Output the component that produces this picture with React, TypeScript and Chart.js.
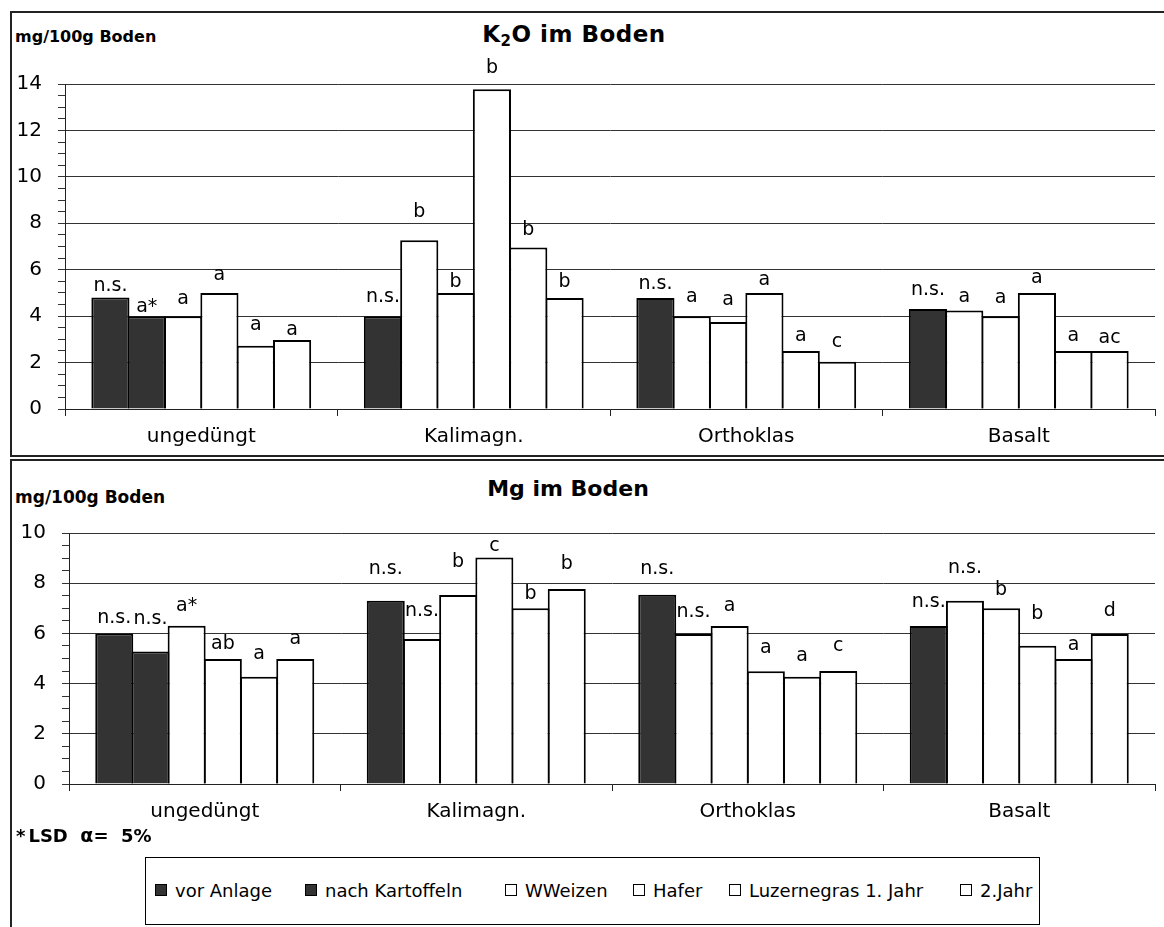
import React, { useEffect, useRef } from 'react';
import { Chart, registerables } from 'chart.js';

Chart.register(...registerables);
Chart.defaults.font.family = "'DejaVu Sans', sans-serif";
Chart.defaults.color = '#000';

// ---------- data ----------
const categories = ['ungedüngt', 'Kalimagn.', 'Orthoklas', 'Basalt'];
const seriesNames = ['vor Anlage', 'nach Kartoffeln', 'WWeizen', 'Hafer', 'Luzernegras 1. Jahr', '2.Jahr'];

// K2O im Boden (mg/100g Boden), one array per series across the categories
const k2oVorAnlage = [4.8, 4.0, 4.78, 4.31];
const k2oNachKartoffeln = [4.0, 7.27, 4.0, 4.24];
const k2oWWeizen = [4.0, 5.0, 3.75, 4.0];
const k2oHafer = [5.0, 13.77, 5.0, 5.0];
const k2oLuzerne1 = [2.73, 6.96, 2.5, 2.5];
const k2oJahr2 = [2.97, 4.78, 2.04, 2.5];

// Mg im Boden (mg/100g Boden)
const mgVorAnlage = [6.0, 7.3, 7.54, 6.29];
const mgNachKartoffeln = [5.28, 5.78, 5.98, 7.3];
const mgWWeizen = [6.3, 7.53, 6.29, 7.0];
const mgHafer = [4.98, 9.02, 4.49, 5.51];
const mgLuzerne1 = [4.27, 7.0, 4.27, 4.98];
const mgJahr2 = [4.98, 7.77, 4.5, 5.98];

// significance letters
const k2oLetters = [
  ['n.s.', 'n.s.', 'n.s.', 'n.s.'],
  ['a*', 'b', 'a', 'a'],
  ['a', 'b', 'a', 'a'],
  ['a', 'b', 'a', 'a'],
  ['a', 'b', 'a', 'a'],
  ['a', 'b', 'c', 'ac'],
];
const mgLetters = [
  ['n.s.', 'n.s.', 'n.s.', 'n.s.'],
  ['n.s.', 'n.s.', 'n.s.', 'n.s.'],
  ['a*', 'b', 'a', 'b'],
  ['ab', 'c', 'a', 'b'],
  ['a', 'b', 'a', 'a'],
  ['a', 'b', 'c', 'd'],
];

// axis maxima
const k2oMax = 14;
const mgMax = 10;

// ---------- styles / annotation placement ----------
const DARK = '#333333';
const WHITE = '#ffffff';
// letter lift above bar top (px)
const k2oLift = [
  [13, 20, 15, 20],
  [10, 29, 20, 15],
  [18, 12, 23, 19],
  [19, 22, 14, 16],
  [22, 18, 16, 16],
  [11, 17, 21, 14],
];
const mgLift = [
  [16, 33, 27, 25],
  [33, 29, 23, 34],
  [21, 34, 21, 19],
  [16, 13, 24, 33],
  [24, 15, 22, 15],
  [21, 26, 26, 24],
];

function seriesColor(i: number): any {
  if (i === 0) return DARK;
  if (i === 1) return categories.map((_, j) => (j === 0 ? DARK : WHITE));
  return WHITE;
}

function makeLabelPlugin(letters: string[][], lifts: number[][]) {
  return {
    id: 'barLetters',
    afterDatasetsDraw(chart: any) {
      const ctx = chart.ctx;
      ctx.save();
      ctx.font = "19px 'DejaVu Sans', sans-serif";
      ctx.fillStyle = '#000';
      ctx.textAlign = 'center';
      ctx.textBaseline = 'alphabetic';
      chart.data.datasets.forEach((_: any, i: number) => {
        const meta = chart.getDatasetMeta(i);
        meta.data.forEach((el: any, j: number) => {
          const t = letters[i][j];
          if (!t) return;
          ctx.fillText(t, el.x, el.y - lifts[i][j] + 6);
        });
      });
      ctx.restore();
    },
  };
}

type PanelProps = {
  top: number;
  height: number;
  padTop: number;
  yWidth: number;
  yMax: number;
  values: number[][];
  letters: string[][];
  lifts: number[][];
};

function BarPanel({ top, height, padTop, yWidth, yMax, values, letters, lifts }: PanelProps) {
  const ref = useRef<HTMLCanvasElement>(null);
  useEffect(() => {
    const chart = new Chart(ref.current as HTMLCanvasElement, {
      type: 'bar',
      data: {
        labels: categories,
        datasets: values.map((v, i) => ({
          label: seriesNames[i],
          data: v,
          backgroundColor: seriesColor(i),
          borderColor: '#000',
          borderWidth: 2,
          categoryPercentage: 0.8,
          barPercentage: 1.05,
        })),
      },
      options: {
        animation: false,
        responsive: true,
        maintainAspectRatio: false,
        layout: { padding: { top: padTop, right: 9, left: 0, bottom: 0 } },
        plugins: { legend: { display: false }, tooltip: { enabled: false }, title: { display: false } },
        scales: {
          x: {
            grid: { display: true, drawOnChartArea: false, drawTicks: true, tickLength: 7, color: '#222', offset: true },
            border: { display: true, color: '#222', width: 1 },
            ticks: { font: { size: 20 }, color: '#000', padding: 9 },
            afterFit: (s: any) => { s.height = 47; },
          },
          y: {
            min: 0,
            max: yMax,
            ticks: {
              stepSize: 0.5,
              maxTicksLimit: 200,
              autoSkip: false,
              font: { size: 20 },
              color: '#000',
              padding: 16,
              callback: (v: any) => (Number(v) % 2 === 0 ? String(v) : ''),
            },
            grid: {
              color: (c: any) => (c.tick && c.tick.value % 2 === 0 ? '#333' : 'rgba(0,0,0,0)'),
              tickColor: '#333',
              tickLength: 7,
              lineWidth: 1,
            },
            border: { display: true, color: '#222', width: 1 },
            afterFit: (s: any) => { s.width = yWidth; },
          },
        },
      } as any,
      plugins: [makeLabelPlugin(letters, lifts)],
    });
    return () => chart.destroy();
  }, []);
  return (
    <div style={{ position: 'absolute', left: 0, top, width: 1164, height }}>
      <canvas ref={ref} />
    </div>
  );
}

const legendSquares = [155, 305, 505, 633, 729, 960];

export default function App() {
  const k2oValues = [k2oVorAnlage, k2oNachKartoffeln, k2oWWeizen, k2oHafer, k2oLuzerne1, k2oJahr2];
  const mgValues = [mgVorAnlage, mgNachKartoffeln, mgWWeizen, mgHafer, mgLuzerne1, mgJahr2];
  const bold = "bold 16px 'DejaVu Sans', sans-serif";
  return (
    <div style={{ position: 'absolute', left: 0, top: 0, width: 1164, height: 927, overflow: 'hidden', background: '#fff', fontFamily: "'DejaVu Sans', sans-serif", color: '#000' }}>
      {/* panel frames */}
      <div style={{ position: 'absolute', left: 10, top: 11, width: 1170, height: 446, boxSizing: 'border-box', border: '2px solid #222' }} />
      <div style={{ position: 'absolute', left: 10, top: 459, width: 1170, height: 480, boxSizing: 'border-box', border: '2px solid #222' }} />

      {/* top panel texts */}
      <div style={{ position: 'absolute', left: 15, top: 27, font: bold, whiteSpace: 'nowrap' }}>mg/100g Boden</div>
      <div style={{ position: 'absolute', left: 574, top: 21, transform: 'translateX(-50%)', font: "bold 23px 'DejaVu Sans', sans-serif", letterSpacing: 0.5, whiteSpace: 'nowrap' }}>
        K<span style={{ fontSize: 15, position: 'relative', top: 4 }}>2</span>O im Boden
      </div>
      <BarPanel top={0} height={456} padTop={84} yWidth={65} yMax={k2oMax} values={k2oValues} letters={k2oLetters} lifts={k2oLift} />

      {/* bottom panel texts */}
      <div style={{ position: 'absolute', left: 15, top: 487, font: "bold 17px 'DejaVu Sans', sans-serif", whiteSpace: 'nowrap' }}>mg/100g Boden</div>
      <div style={{ position: 'absolute', left: 568, top: 476, transform: 'translateX(-50%)', font: "bold 22px 'DejaVu Sans', sans-serif", whiteSpace: 'nowrap' }}>Mg im Boden</div>
      <BarPanel top={459} height={372} padTop={74} yWidth={69} yMax={mgMax} values={mgValues} letters={mgLetters} lifts={mgLift} />

      {/* LSD note */}
      <div style={{ position: 'absolute', left: 16, top: 824, font: "bold 18px 'DejaVu Sans', sans-serif", whiteSpace: 'pre' }}>
        *<span style={{ marginLeft: 3 }}>LSD</span>{'  '}<span style={{ fontSize: 19 }}>α</span>={'  '}5%
      </div>

      {/* legend */}
      <div style={{ position: 'absolute', left: 145, top: 857, width: 895, height: 68, boxSizing: 'border-box', border: '1px solid #000' }} />
      {seriesNames.map((name, i) => (
        <div key={name} style={{ position: 'absolute', left: legendSquares[i], top: 878, height: 24, display: 'flex', alignItems: 'center', whiteSpace: 'nowrap', fontSize: 18 }}>
          <span style={{ display: 'inline-block', width: 10, height: 10, border: '1.5px solid #000', background: i <= 1 ? DARK : WHITE, marginRight: 8 }} />
          <span>{name}</span>
        </div>
      ))}
    </div>
  );
}
